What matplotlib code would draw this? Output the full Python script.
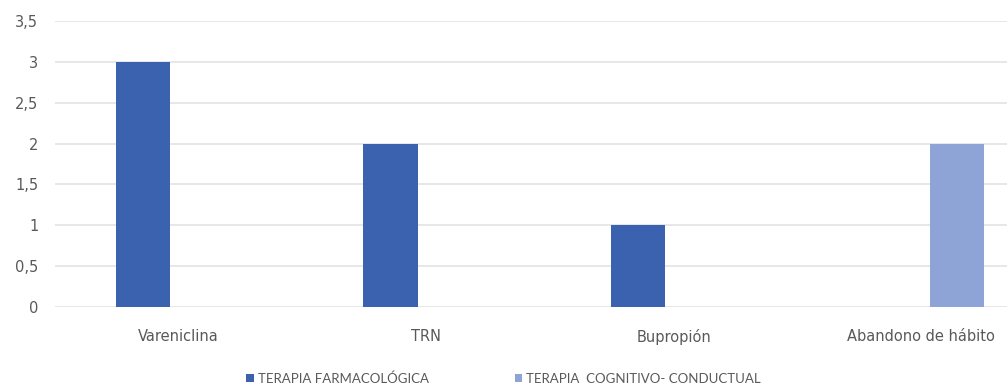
import matplotlib.pyplot as plt
import numpy as np
from matplotlib.ticker import FuncFormatter

plt.rcParams["font.family"] = ["DejaVu Sans"]

categories = ["Vareniclina", "TRN", "Bupropión", "Abandono de hábito"]
farmacologica = [3, 2, 1, np.nan]
cognitivo = [np.nan, np.nan, np.nan, 2]
series_names = ["TERAPIA FARMACOLÓGICA", "TERAPIA  COGNITIVO- CONDUCTUAL"]
yticks = [0, 0.5, 1, 1.5, 2, 2.5, 3, 3.5]

dark_blue = "#3A62AE"
light_blue = "#8EA4D6"
text_grey = "#595959"

fig = plt.figure(figsize=(10.07, 3.85), dpi=100)
# plot area runs past the right edge of the canvas, as in the source export
ax = fig.add_axes([55 / 1007, 78.3 / 385, 990 / 1007, 285.4 / 385])

x = np.arange(len(categories))
width = 0.222
offset = 0.1444
ax.bar(x - offset, farmacologica, width, color=dark_blue, label=series_names[0], zorder=3)
ax.bar(x + offset, cognitivo, width, color=light_blue, label=series_names[1], zorder=3)

ax.set_xlim(-0.5, len(categories) - 0.5)
ax.set_ylim(0, 3.5)
ax.set_yticks(yticks)
ax.yaxis.set_major_formatter(FuncFormatter(lambda v, _: f"{v:g}".replace(".", ",")))
ax.grid(axis="y", color="#E3E3E3", linewidth=1.2, zorder=0)

ax.set_xticks(x)
ax.set_xticklabels(categories)
ax.tick_params(axis="both", length=0, colors=text_grey, labelsize=10.5)
ax.tick_params(axis="x", pad=16)
ax.tick_params(axis="y", pad=12)
for side in ["top", "right", "left", "bottom"]:
    ax.spines[side].set_visible(False)

fig.legend(loc="lower center", bbox_to_anchor=(0.5, -0.03), ncol=2, frameon=False,
           prop={"family": "Lato", "size": 9.5}, labelcolor=text_grey,
           handlelength=0.6, handleheight=0.6, handletextpad=0.3, columnspacing=6.5)

fig.savefig("out.png", dpi=100)
